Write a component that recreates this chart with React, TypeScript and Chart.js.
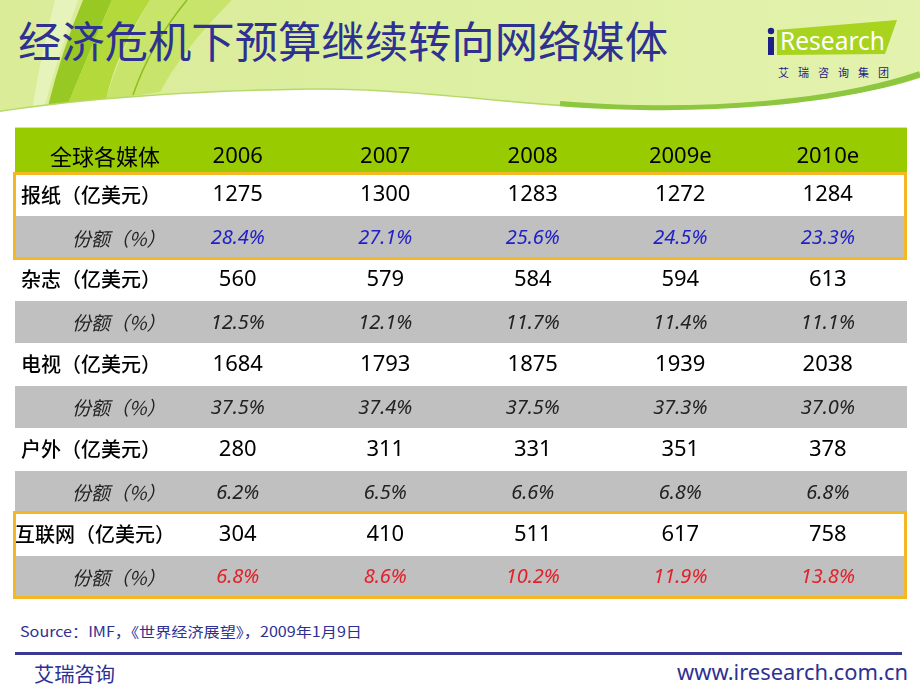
import React, { useEffect, useRef } from "react";
import { Chart, registerables } from "chart.js";

Chart.register(...registerables);

// ---------- data ----------
const headerLabel = "全球各媒体";
const years = ["2006", "2007", "2008", "2009e", "2010e"];
const media = ["报纸", "杂志", "电视", "户外", "互联网"];
const amountUnit = "（亿美元）";
const shareLabel = "份额（%）";

const newspaperAmount = [1275, 1300, 1283, 1272, 1284];
const newspaperShare = [28.4, 27.1, 25.6, 24.5, 23.3];
const magazineAmount = [560, 579, 584, 594, 613];
const magazineShare = [12.5, 12.1, 11.7, 11.4, 11.1];
const tvAmount = [1684, 1793, 1875, 1939, 2038];
const tvShare = [37.5, 37.4, 37.5, 37.3, 37.0];
const outdoorAmount = [280, 311, 331, 351, 378];
const outdoorShare = [6.2, 6.5, 6.6, 6.8, 6.8];
const internetAmount = [304, 410, 511, 617, 758];
const internetShare = [6.8, 8.6, 10.2, 11.9, 13.8];

const highlightedMedia = ["报纸", "互联网"];

const title = "经济危机下预算继续转向网络媒体";
const sourceText = "Source：IMF，《世界经济展望》，2009年1月9日";
const footerLeft = "艾瑞咨询";
const footerRight = "www.iresearch.com.cn";
const logoText = "Research";
const logoSub = ["艾", "瑞", "咨", "询", "集", "团"];

// ---------- style ----------
const X_MIN = -1.01;
const X_MAX = 5.037;
const Y_MIN = -1.08;
const Y_MAX = 10;
const HEADER_BG = "#99CC00";
const ROW_WHITE = "#FFFFFF";
const ROW_GRAY = "#C0C0C0";
const BORDER = "#F3B824";
const NAVY = "#2E3192";
const SHARE_COLORS: Record<string, string> = {
  报纸: "#2020C8",
  互联网: "#E3202A",
};
const CJK = '"Noto Sans CJK SC", sans-serif';
const NUM = '"Noto Sans", "Noto Sans CJK SC", sans-serif';

const amountRows = [newspaperAmount, magazineAmount, tvAmount, outdoorAmount, internetAmount];
const shareRows = [newspaperShare, magazineShare, tvShare, outdoorShare, internetShare];

const tablePlugin = {
  id: "tableCells",
  beforeDatasetsDraw(chart: any) {
    const { ctx } = chart;
    const { x, y } = chart.scales;
    const left = Math.round(x.getPixelForValue(X_MIN));
    const right = Math.round(x.getPixelForValue(X_MAX));
    ctx.save();
    const hTop = Math.round(y.getPixelForValue(Y_MIN));
    const hBot = Math.round(y.getPixelForValue(0));
    ctx.fillStyle = HEADER_BG;
    ctx.fillRect(left, hTop, right - left, hBot - hTop);
    for (let r = 0; r < media.length * 2; r++) {
      const t = Math.round(y.getPixelForValue(r));
      const b = Math.round(y.getPixelForValue(r + 1));
      ctx.fillStyle = r % 2 === 0 ? ROW_WHITE : ROW_GRAY;
      ctx.fillRect(left, t, right - left, b - t);
    }
    ctx.restore();
  },
  afterDatasetsDraw(chart: any) {
    const { ctx } = chart;
    const { x, y } = chart.scales;
    const left = x.getPixelForValue(X_MIN);
    const right = x.getPixelForValue(X_MAX);
    ctx.save();
    ctx.textBaseline = "middle";
    chart.data.datasets.forEach((ds: any, i: number) => {
      const meta = chart.getDatasetMeta(i);
      const pts = meta.data;
      if (ds.kind === "header") {
        ctx.font = `22px ${CJK}`;
        ctx.fillStyle = "#000";
        ctx.textAlign = "center";
        ctx.fillText(ds.rowLabel, x.getPixelForValue(-0.4), pts[0].y);
        ctx.font = `22px ${NUM}`;
      } else if (ds.kind === "amount") {
        ctx.font = `500 20px ${CJK}`;
        ctx.fillStyle = "#000";
        ctx.textAlign = "left";
        const off = ds.rowLabel.length > 7 ? 0 : 6;
        ctx.fillText(ds.rowLabel, left + off, pts[0].y);
        ctx.font = `22px ${NUM}`;
      } else {
        ctx.font = `italic 19px ${CJK}`;
        ctx.fillStyle = "#222";
        ctx.textAlign = "left";
        ctx.fillText(ds.rowLabel, left + 57, pts[0].y + 1);
        ctx.font = `italic 20px ${NUM}`;
        ctx.fillStyle = ds.textColor;
      }
      ctx.textAlign = "center";
      pts.forEach((el: any, c: number) => {
        ctx.fillText(ds.texts[c], el.x, el.y + (ds.kind === "share" ? 1 : 0));
      });
    });
    ctx.strokeStyle = BORDER;
    ctx.lineWidth = 3;
    highlightedMedia.forEach((m) => {
      const idx = media.indexOf(m);
      const t = Math.round(y.getPixelForValue(idx * 2));
      const b = Math.round(y.getPixelForValue(idx * 2 + 2));
      ctx.strokeRect(Math.round(left) - 0.5, t - 0.5, Math.round(right) - Math.round(left) - 1, b - t);
    });
    ctx.restore();
  },
};

function buildDatasets() {
  const ds: any[] = [];
  ds.push({
    label: headerLabel,
    kind: "header",
    rowLabel: headerLabel,
    texts: years,
    data: years.map((_, c) => ({ x: c + 0.5, y: -0.4 })),
    pointRadius: 0,
  });
  media.forEach((m, i) => {
    ds.push({
      label: m + amountUnit,
      kind: "amount",
      rowLabel: m + amountUnit,
      texts: amountRows[i].map((v) => String(v)),
      data: amountRows[i].map((_, c) => ({ x: c + 0.5, y: i * 2 + 0.5 })),
      pointRadius: 0,
    });
    ds.push({
      label: m + shareLabel,
      kind: "share",
      rowLabel: shareLabel,
      textColor: SHARE_COLORS[m] || "#222",
      texts: shareRows[i].map((v) => v.toFixed(1) + "%"),
      data: shareRows[i].map((_, c) => ({ x: c + 0.5, y: i * 2 + 1.5 })),
      pointRadius: 0,
    });
  });
  return ds;
}

function Background() {
  return (
    <svg width={920} height={690} style={{ position: "absolute", left: 0, top: 0 }}>
      <defs>
        <linearGradient id="hdr" x1="0" x2="1" y1="0" y2="0">
          <stop offset="0" stopColor="#DAEC98" />
          <stop offset="0.5" stopColor="#DDEFA2" />
          <stop offset="1" stopColor="#E3F2AE" />
        </linearGradient>
      </defs>
      <rect x={0} y={0} width={920} height={140} fill="url(#hdr)" />
      <path d="M55,0 L78,0 Q60,50 44,108 L32,110 Q42,50 55,0 Z" fill="#E6F4BC" />
      <path d="M83,0 L112,0 Q90,50 68,104 L48,106 Q62,50 83,0 Z" fill="#97C823" />
      <path d="M112,0 L150,0 Q115,55 106,100 L68,104 Q90,50 112,0 Z" fill="#B3D93A" />
      <path d="M150,0 L232,0 Q182,50 160,92 L106,100 Q118,55 150,0 Z" fill="#C8E46A" />
      <path d="M187,0 Q150,45 133,95" stroke="#8BBE1E" strokeWidth={1.5} fill="none" />
      <path
        d="M0,112 C80,100 180,92 300,90 C420,88 520,108 640,110 C750,112 850,100 920,78"
        stroke="#B5D86A"
        strokeWidth={3}
        fill="none"
      />
      <path
        d="M560,104 C600,107 620,108 640,108 C750,110 850,98 920,74"
        stroke="#8DC63F"
        strokeWidth={6}
        fill="none"
      />
      <path
        d="M0,112 C80,100 180,92 300,90 C420,88 520,108 640,110 C750,112 850,100 920,78 L920,140 L0,140 Z"
        fill="#FFFFFF"
      />
      <line x1={15} y1={128} x2={907} y2={128} stroke="#A6CE39" strokeWidth={1} />
      <text
        x={18}
        y={58}
        fontSize={43}
        fill={NAVY}
        fontFamily={CJK}
        textLength={650}
        lengthAdjust="spacingAndGlyphs"
      >
        {title}
      </text>
      <polygon points="777,30 897,20 885,54 777,55" fill="#A8D31E" />
      <circle cx={771} cy={31} r={3.2} fill="#1D2088" />
      <rect x={768} y={37} width={6} height={18} fill="#1D2088" />
      <text
        x={780}
        y={50}
        fontSize={25}
        fill="#FFFFFF"
        fontFamily='"Noto Sans", sans-serif'
        textLength={105}
        lengthAdjust="spacingAndGlyphs"
      >
        {logoText}
      </text>
      {logoSub.map((ch, i) => (
        <text
          key={i}
          x={778 + i * 20}
          y={77}
          fontSize={11}
          fill="#1D2088"
          fontFamily={CJK}
        >
          {ch}
        </text>
      ))}
      <text
        x={20}
        y={637}
        fontSize={14}
        fill={NAVY}
        fontFamily={CJK}
        textLength={342}
        lengthAdjust="spacingAndGlyphs"
      >
        {sourceText}
      </text>
      <rect x={15} y={652} width={887} height={3} fill="#3A3A93" />
      <text
        x={34}
        y={682}
        fontSize={20}
        fill={NAVY}
        fontFamily={CJK}
        textLength={81}
        lengthAdjust="spacingAndGlyphs"
      >
        {footerLeft}
      </text>
      <text
        x={677}
        y={680}
        fontSize={22}
        fill={NAVY}
        fontFamily='"Noto Sans", sans-serif'
        textLength={231}
        lengthAdjust="spacingAndGlyphs"
      >
        {footerRight}
      </text>
    </svg>
  );
}

export default function App() {
  const canvasRef = useRef<HTMLCanvasElement | null>(null);

  useEffect(() => {
    if (!canvasRef.current) return;
    const chart = new Chart(canvasRef.current, {
      type: "scatter",
      data: { datasets: buildDatasets() },
      options: {
        animation: false,
        responsive: false,
        maintainAspectRatio: false,
        events: [],
        layout: { padding: { left: 15, right: 13, top: 128, bottom: 92 } },
        scales: {
          x: { type: "linear", min: X_MIN, max: X_MAX, display: false },
          y: { type: "linear", min: Y_MIN, max: Y_MAX, reverse: true, display: false },
        },
        plugins: {
          legend: { display: false },
          tooltip: { enabled: false },
        },
      },
      plugins: [tablePlugin],
    } as any);
    return () => chart.destroy();
  }, []);

  return (
    <div
      style={{
        position: "fixed",
        left: 0,
        top: 0,
        width: 920,
        height: 690,
        background: "#FFFFFF",
        overflow: "hidden",
      }}
    >
      <Background />
      <canvas
        ref={canvasRef}
        width={920}
        height={690}
        style={{ position: "absolute", left: 0, top: 0, width: 920, height: 690 }}
      />
    </div>
  );
}
